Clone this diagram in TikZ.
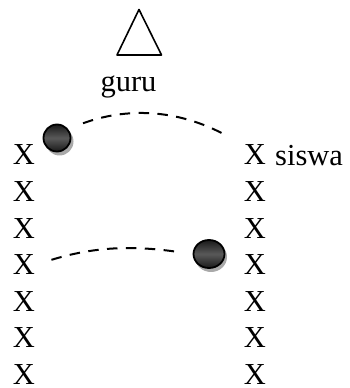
\documentclass[tikz,border=0pt]{standalone}
\usepackage{fontspec}
\setmainfont{Liberation Serif}
\usetikzlibrary{positioning,shapes.geometric}
\tikzset{
  label text/.style={inner sep=0pt, font=\fontsize{30.5}{31}\selectfont},
  ball/.style={ellipse, draw=black, line width=1.8pt, inner sep=0pt,
    top color=black!90, bottom color=black!90, middle color=black!65},
  ball shadow/.style={fill=black!45, opacity=0.75},
  path line/.style={line width=2pt, dash pattern=on 10.5pt off 8.4pt},
}
\begin{document}
\begin{tikzpicture}[x=1pt,y=1pt]

  % Fix the page to the size of the reference
  \useasboundingbox (0,0) rectangle (349,388);

  % Draw the triangle
  \coordinate (T) at (139,378.5);
  \coordinate (L) at (117,333);
  \coordinate (R) at (161.5,333);
  \draw[line width=1.6pt, line join=round] (T) -- (L) -- (R) -- cycle;
  \node[label text, anchor=base] (guru) at (128.5,296) {guru};

  % Draw both rows of X
  \foreach \i in {1,...,7} {
    \node[label text] (left\i) at (24,{233-36.6*(\i-1)}) {X};
    \node[label text] (right\i) at (255,{233-36.6*(\i-1)}) {X};
  }
  \node[label text, anchor=base west] (siswa) at (275,222) {siswa};

  % Draw the balls, the shadow goes first
  \fill[ball shadow] (59.5,246.5) circle (14);
  \node[ball, minimum width=27pt, minimum height=27pt] (ball1) at (57,250) {};
  \fill[ball shadow] (211,131) ellipse (16 and 15);
  \node[ball, minimum width=31pt, minimum height=28pt] (ball2) at (209,134) {};

  % Draw the dashed curves
  \draw[path line, shorten <=16pt, shorten >=23pt] (ball1.40) to[out=20, in=152] (right1.north west);
  \draw[path line, shorten <=17pt, shorten >=17pt] (left4.east) to[out=17, in=172] (ball2.west);

\end{tikzpicture}
\end{document}
